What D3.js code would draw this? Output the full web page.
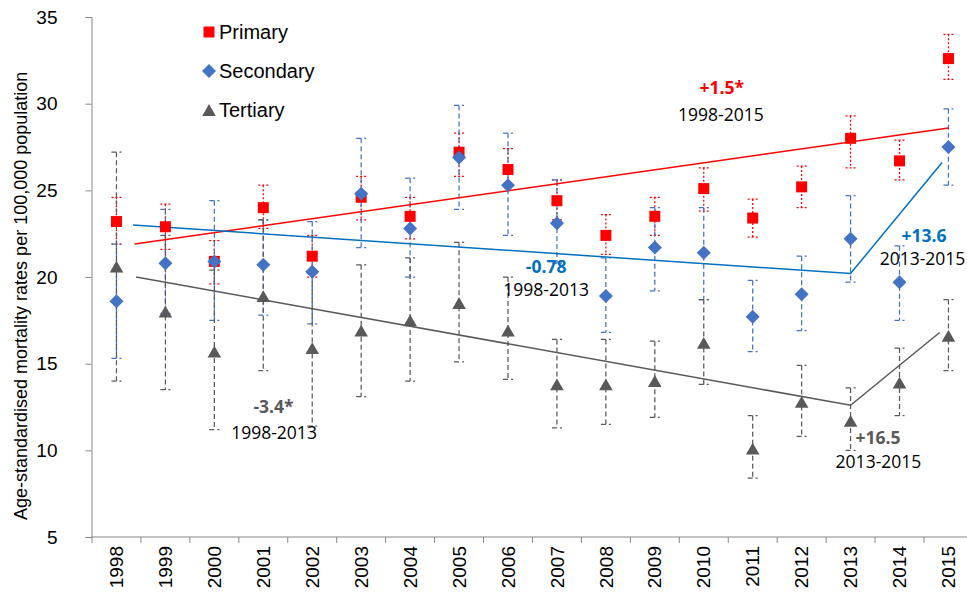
<!DOCTYPE html>
<html>
<head>
<meta charset="utf-8">
<script src="https://cdn.jsdelivr.net/npm/d3@7"></script>
<style>
  body { margin: 0; background: #fff; }
  svg { display: block; }
  .axis text { font-family: "Liberation Sans", Arial, sans-serif; font-size: 19px; fill: #000; }
  .note { font-family: "Open Sans", sans-serif; font-size: 17.5px; }
</style>
</head>
<body>
<svg width="967" height="600"></svg>
<script>
const years = [1998, 1999, 2000, 2001, 2002, 2003, 2004, 2005, 2006, 2007, 2008, 2009, 2010, 2011, 2012, 2013, 2014, 2015];

const primary     = [23.2, 22.9, 20.9, 24.0, 21.2, 24.6, 23.5, 27.2, 26.2, 24.4, 22.4, 23.5, 25.1, 23.4, 25.2, 28.0, 26.7, 32.6];
const primaryLow  = [21.9, 21.6, 19.6, 22.8, 20.0, 23.3, 22.2, 25.8, 25.3, 23.3, 21.3, 22.4, 23.8, 22.3, 24.0, 26.3, 25.6, 31.4];
const primaryHigh = [24.6, 24.2, 22.1, 25.3, 22.4, 25.8, 24.6, 28.3, 27.4, 25.6, 23.6, 24.6, 26.3, 24.5, 26.4, 29.3, 27.9, 34.0];

const secondary     = [18.6, 20.8, 20.9, 20.7, 20.3, 24.8, 22.8, 26.9, 25.3, 23.1, 18.9, 21.7, 21.4, 17.7, 19.0, 22.2, 19.7, 27.5];
const secondaryLow  = [15.3, 17.9, 17.5, 17.8, 17.3, 21.7, 20.0, 23.9, 22.4, 20.8, 16.8, 19.2, 18.7, 15.7, 16.9, 19.7, 17.5, 25.3];
const secondaryHigh = [21.9, 23.9, 24.4, 23.3, 23.2, 28.0, 25.7, 29.9, 28.3, 25.6, 21.1, 24.0, 24.0, 19.8, 21.2, 24.7, 21.8, 29.7];

const tertiary     = [20.6, 18.0, 15.7, 18.9, 15.9, 16.9, 17.5, 18.5, 16.9, 13.8, 13.8, 14.0, 16.2, 10.1, 12.8, 11.7, 13.9, 16.6];
const tertiaryLow  = [14.0, 13.5, 11.2, 14.6, 11.4, 13.1, 14.0, 15.1, 14.1, 11.3, 11.5, 11.9, 13.8, 8.4, 10.8, 10.0, 12.0, 14.6];
const tertiaryHigh = [27.2, 22.4, 20.4, 23.3, 20.2, 20.7, 21.1, 22.0, 20.0, 16.4, 16.4, 16.3, 18.7, 12.0, 14.9, 13.6, 15.9, 18.7];

// joinpoint trend segments: [year, rate]
const trendPrimary   = [[1998.37, 21.9], [2015, 28.6]];
const trendSecondary = [[1998.34, 23.0], [2013, 20.2], [2014.87, 26.6]];
const trendTertiary  = [[1998.4, 20.0], [2013, 12.6], [2014.82, 16.8]];

const yTicks = [5, 10, 15, 20, 25, 30, 35];

const notes = [
  {text: '+1.5*', year: 2010.37, value: 30.9, color: '#ff0000', bold: true},
  {text: '1998-2015', year: 2010.35, value: 29.35, color: '#000', bold: false},
  {text: '-0.78', year: 2006.78, value: 20.6, color: '#0070c0', bold: true},
  {text: '1998-2013', year: 2006.78, value: 19.25, color: '#000', bold: false},
  {text: '+13.6', year: 2014.5, value: 22.4, color: '#0070c0', bold: true},
  {text: '2013-2015', year: 2014.47, value: 21.05, color: '#000', bold: false},
  {text: '-3.4*', year: 2001.21, value: 12.5, color: '#595959', bold: true},
  {text: '1998-2013', year: 2001.22, value: 11.0, color: '#000', bold: false},
  {text: '+16.5', year: 2013.56, value: 10.7, color: '#595959', bold: true},
  {text: '2013-2015', year: 2013.57, value: 9.35, color: '#000', bold: false}
];

(function(d3) {
  'use strict';

  const svg = d3.select('svg');
  const width = +svg.attr('width');
  const height = +svg.attr('height');
  const margin = {top: 17, left: 92, bottom: 63};
  const step = 48.94;

  const x = d3.scaleLinear()
      .domain([1997.5, 2015.5])
      .range([margin.left, margin.left + 18 * step]);
  const y = d3.scaleLinear()
      .domain([5, 35])
      .range([height - margin.bottom, margin.top]);

  // triangle centred on its bounding box, like the spreadsheet marker
  const boxTriangle = {
    draw(ctx, size) {
      const w = Math.sqrt(size * 4 / Math.sqrt(3));
      const h = w * Math.sqrt(3) / 2;
      ctx.moveTo(0, -h / 2);
      ctx.lineTo(w / 2, h / 2);
      ctx.lineTo(-w / 2, h / 2);
      ctx.closePath();
    }
  };
  // square turned 45 degrees
  const squareDiamond = {
    draw(ctx, size) {
      const r = Math.sqrt(size / 2);
      ctx.moveTo(0, -r);
      ctx.lineTo(r, 0);
      ctx.lineTo(0, r);
      ctx.lineTo(-r, 0);
      ctx.closePath();
    }
  };

  const series = [
    {name: 'Primary', values: primary, low: primaryLow, high: primaryHigh,
     color: '#ff0000', dash: '2,2', symbol: d3.symbolSquare, size: 121, trend: trendPrimary, trendColor: '#ff0000'},
    {name: 'Secondary', values: secondary, low: secondaryLow, high: secondaryHigh,
     color: '#4472c4', dash: '5,3', symbol: squareDiamond, size: 98, trend: trendSecondary, trendColor: '#0070c0'},
    {name: 'Tertiary', values: tertiary, low: tertiaryLow, high: tertiaryHigh,
     color: '#595959', dash: '5,3', symbol: boxTriangle, size: 80, trend: trendTertiary, trendColor: '#595959'}
  ];

  // axes
  const yAxis = svg.append('g')
      .attr('class', 'axis')
      .attr('transform', `translate(${margin.left - 0.5},0)`)
      .call(d3.axisLeft(y).tickValues(yTicks).tickSize(6).tickPadding(28));
  yAxis.selectAll('line, path').attr('stroke', '#868686');

  const xAxis = svg.append('g')
      .attr('class', 'axis')
      .attr('transform', `translate(0,${y(5)})`);
  xAxis.append('line')
      .attr('x1', margin.left - 0.5).attr('x2', width)
      .attr('stroke', '#868686');
  xAxis.selectAll('.tick-mark').data(years.map(d => d - 0.5))
    .enter().append('line')
      .attr('x1', d => x(d)).attr('x2', d => x(d))
      .attr('y1', 0).attr('y2', 6)
      .attr('stroke', '#868686');
  xAxis.selectAll('.year').data(years)
    .enter().append('text')
      .attr('transform', d => `translate(${x(d)},9) rotate(-90)`)
      .attr('dy', '0.35em')
      .attr('text-anchor', 'end')
      .text(d => d);

  svg.append('text')
      .attr('transform', `translate(21,${y(5) - 17}) rotate(-90)`)
      .attr('dy', '0.35em')
      .attr('text-anchor', 'start')
      .style('font-family', '"Liberation Sans", Arial, sans-serif')
      .style('font-size', '18px')
      .text('Age-standardised mortality rates per 100,000 population');

  // error bars
  series.forEach(s => {
    const g = svg.append('g')
        .attr('stroke', s.color)
        .attr('stroke-width', 1.25)
        .attr('stroke-dasharray', s.dash)
        .attr('fill', 'none');
    years.forEach((yr, i) => {
      g.append('line')
          .attr('x1', x(yr)).attr('x2', x(yr))
          .attr('y1', y(s.high[i])).attr('y2', y(s.low[i]));
      [s.high[i], s.low[i]].forEach(v => {
        g.append('line')
            .attr('x1', x(yr) - 5).attr('x2', x(yr) + 5)
            .attr('y1', y(v)).attr('y2', y(v));
      });
    });
  });

  // trend lines
  const line = d3.line().x(d => x(d[0])).y(d => y(d[1]));
  series.forEach(s => {
    svg.append('path')
        .attr('d', line(s.trend))
        .attr('fill', 'none')
        .attr('stroke', s.trendColor)
        .attr('stroke-width', 1.5);
  });

  // markers
  series.forEach(s => {
    const sym = d3.symbol().type(s.symbol).size(s.size);
    svg.append('g').selectAll('path')
        .data(years.map((yr, i) => [yr, s.values[i]]))
        .enter().append('path')
        .attr('transform', d => `translate(${x(d[0])},${y(d[1])})`)
        .attr('d', sym)
        .attr('fill', s.color);
  });

  // legend
  const legend = svg.append('g').attr('transform', 'translate(209,32)');
  series.forEach((s, i) => {
    const row = legend.append('g').attr('transform', `translate(0,${i * 39})`);
    row.append('path')
        .attr('d', d3.symbol().type(s.symbol).size(s.size)())
        .attr('fill', s.color);
    row.append('text')
        .attr('x', 10)
        .attr('dy', '0.35em')
        .style('font-family', '"Liberation Sans", Arial, sans-serif')
        .style('font-size', '20px')
        .text(s.name);
  });

  // joinpoint annotations
  svg.append('g').selectAll('text')
      .data(notes)
      .enter().append('text')
      .attr('class', 'note')
      .attr('x', d => x(d.year))
      .attr('y', d => y(d.value))
      .attr('dy', '0.35em')
      .attr('text-anchor', 'middle')
      .attr('fill', d => d.color)
      .style('font-weight', d => d.bold ? 'bold' : 'normal')
      .text(d => d.text);

}(d3));
</script>
</body>
</html>
